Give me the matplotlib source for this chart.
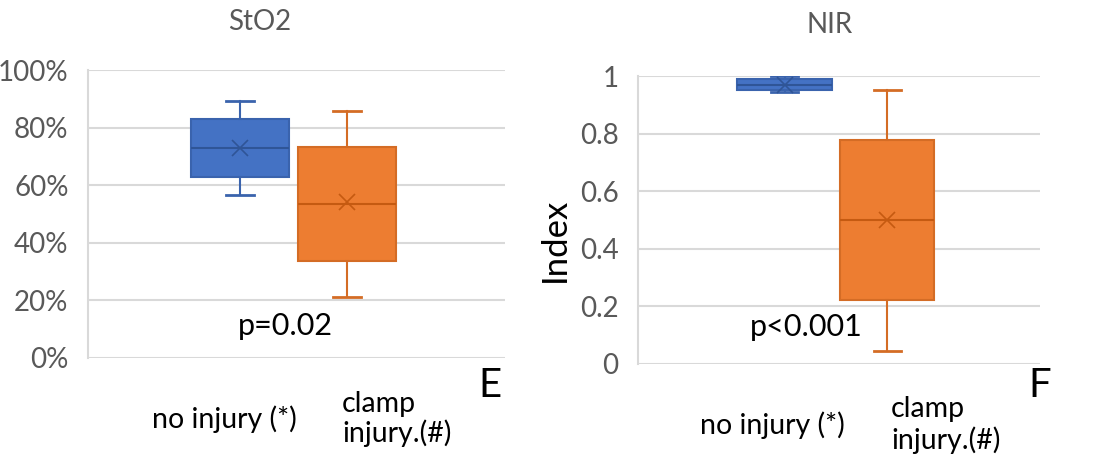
import matplotlib.pyplot as plt
from matplotlib.ticker import PercentFormatter

plt.rcParams['font.family'] = ['Lato', 'DejaVu Sans']

# Box statistics per group: (whisker low, Q1, median, Q3, whisker high, mean)
groups = ["no injury (*)", "clamp\ninjury.(#)"]
sto2_no_injury = [0.566, 0.628, 0.729, 0.830, 0.892, 0.73]
sto2_clamp = [0.213, 0.338, 0.536, 0.734, 0.858, 0.54]
nir_no_injury = [0.945, 0.951, 0.970, 0.988, 1.000, 0.970]
nir_clamp = [0.045, 0.222, 0.500, 0.778, 0.950, 0.500]

sto2_ticks = [0, 0.2, 0.4, 0.6, 0.8, 1.0]
nir_ticks = [0, 0.2, 0.4, 0.6, 0.8, 1.0]
nir_ticklabels = ["0", "0.2", "0.4", "0.6", "0.8", "1"]

fills = ["#4472C4", "#ED7D31"]
edges = ["#3A63AD", "#D46C25"]
darks = ["#2F5597", "#C55A11"]
grid_color = "#D9D9D9"
tick_color = "#595959"

W, H = 1102, 461
fig = plt.figure(figsize=(W / 100, H / 100), dpi=100)


def stats(vals, label):
    lo, q1, med, q3, hi, mean = vals
    return dict(whislo=lo, q1=q1, med=med, q3=q3, whishi=hi, mean=mean,
                fliers=[], label=label)


def draw_panel(rect, series, ticks, ticklabels=None, percent=False):
    ax = fig.add_axes(rect)
    positions = [0.365, 0.62]
    for i, vals in enumerate(series):
        ax.bxp([stats(vals, groups[i])], positions=[positions[i]], widths=0.235,
               capwidths=0.067, patch_artist=True, showmeans=True,
               boxprops=dict(facecolor=fills[i], edgecolor=edges[i], linewidth=1.5),
               medianprops=dict(color=darks[i], linewidth=1.5),
               whiskerprops=dict(color=edges[i], linewidth=1.5),
               capprops=dict(color=edges[i], linewidth=2),
               meanprops=dict(marker="x", markersize=11, markeredgecolor=darks[i],
                              markeredgewidth=1.2))
    ax.set_xlim(0, 1)
    ax.set_ylim(0, 1)
    ax.set_yticks(ticks)
    if percent:
        ax.yaxis.set_major_formatter(PercentFormatter(1.0, decimals=0))
    if ticklabels is not None:
        ax.set_yticklabels(ticklabels)
    ax.set_xticks([])
    ax.grid(axis="y", color=grid_color, linewidth=1.5)
    ax.set_axisbelow(True)
    for side in ("top", "right", "bottom"):
        ax.spines[side].set_visible(False)
    ax.spines["left"].set_color(grid_color)
    ax.spines["left"].set_linewidth(1.5)
    ax.tick_params(axis="y", length=0, pad=14, labelsize=20, labelcolor=tick_color)
    return ax


def px(x, y):
    return x / W, 1 - y / H


# StO2 panel
draw_panel([88 / W, 1 - 358 / H, 417 / W, 288 / H],
           [sto2_no_injury, sto2_clamp], sto2_ticks, percent=True)
fig.text(*px(260, 22), "StO2", ha="center", va="center", fontsize=20, color=tick_color)
fig.text(*px(285, 326), "p=0.02", ha="center", va="center", fontsize=22)
fig.text(*px(490, 385), "E", ha="center", va="center", fontsize=29)
fig.text(*px(224, 419), groups[0], ha="center", va="center", fontsize=20.5)
fig.text(*px(342, 419), groups[1], ha="left", va="center", fontsize=20.5, linespacing=1.08)

# NIR panel
draw_panel([638 / W, 1 - 364 / H, 402 / W, 288 / H],
           [nir_no_injury, nir_clamp], nir_ticks, ticklabels=nir_ticklabels)
fig.text(*px(555, 240), "Index", ha="center", va="center", rotation=90, fontsize=25)
fig.text(*px(830, 25), "NIR", ha="center", va="center", fontsize=20, color=tick_color)
fig.text(*px(806, 327), "p<0.001", ha="center", va="center", fontsize=22)
fig.text(*px(1040, 385), "F", ha="center", va="center", fontsize=29)
fig.text(*px(772, 425), groups[0], ha="center", va="center", fontsize=20.5)
fig.text(*px(891, 425), groups[1], ha="left", va="center", fontsize=20.5, linespacing=1.15)

fig.savefig("out.png", dpi=100, facecolor="white")
